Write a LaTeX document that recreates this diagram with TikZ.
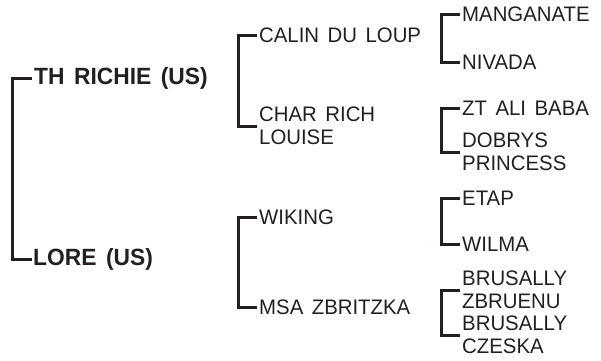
\documentclass[tikz,border=0pt]{standalone}
\usepackage{fontspec}
\setmainfont{Liberation Sans}[WordSpace=1.5,FakeStretch=0.97]
\definecolor{ink}{HTML}{231F20}
\begin{document}
\begin{tikzpicture}[x=1pt,y=-1pt,
  lbl/.style={anchor=west,inner sep=0pt,text=ink,align=left,font=\fontsize{21}{23.5}\selectfont},
  rootlbl/.style={anchor=west,inner sep=0pt,text=ink,font=\bfseries\fontsize{23.5}{26}\selectfont},
  brk/.style={draw=ink,line width=3pt}]
\useasboundingbox (0,0) rectangle (601,360);
% level 1
\node[rootlbl] (r1) at (34,78) {TH RICHIE (US)};
\node[rootlbl] (r2) at (33,259) {LORE (US)};
% level 2
\node[lbl] (a1) at (259,35) {CALIN DU LOUP};
\node[lbl] (a2) at (259,126) {CHAR RICH\\LOUISE};
\node[lbl] (b1) at (259,217) {WIKING};
\node[lbl] (b2) at (259,307) {MSA ZBRITZKA};
% level 3
\node[lbl] (m1) at (462,14) {MANGANATE};
\node[lbl] (m2) at (462,62) {NIVADA};
\node[lbl] (z1) at (462,108) {ZT ALI BABA};
\node[lbl] (z2) at (462,152) {DOBRYS\\PRINCESS};
\node[lbl] (e1) at (462,198) {ETAP};
\node[lbl] (e2) at (462,244) {WILMA};
\node[lbl] (s1) at (462,290) {BRUSALLY\\ZBRUENU};
\node[lbl] (s2) at (462,335) {BRUSALLY\\CZESKA};
% brackets
\draw[brk] ([xshift=-2]r1.west) -| ([xshift=-22]r1.west) |- ([xshift=-1]r2.west);
\draw[brk] ([xshift=-2]a1.west) -| ([xshift=-21]a1.west) |- ([xshift=-2]a2.west);
\draw[brk] ([xshift=-2]b1.west) -| ([xshift=-21]b1.west) |- ([xshift=-2]b2.west);
\draw[brk] ([xshift=-2]m1.west) -| ([xshift=-21]m1.west) |- ([xshift=-2]m2.west);
\draw[brk] ([xshift=-2]z1.west) -| ([xshift=-21]z1.west) |- ([xshift=-2]z2.west);
\draw[brk] ([xshift=-2]e1.west) -| ([xshift=-21]e1.west) |- ([xshift=-2]e2.west);
\draw[brk] ([xshift=-2]s1.west) -| ([xshift=-21]s1.west) |- ([xshift=-2]s2.west);
\end{tikzpicture}
\end{document}
